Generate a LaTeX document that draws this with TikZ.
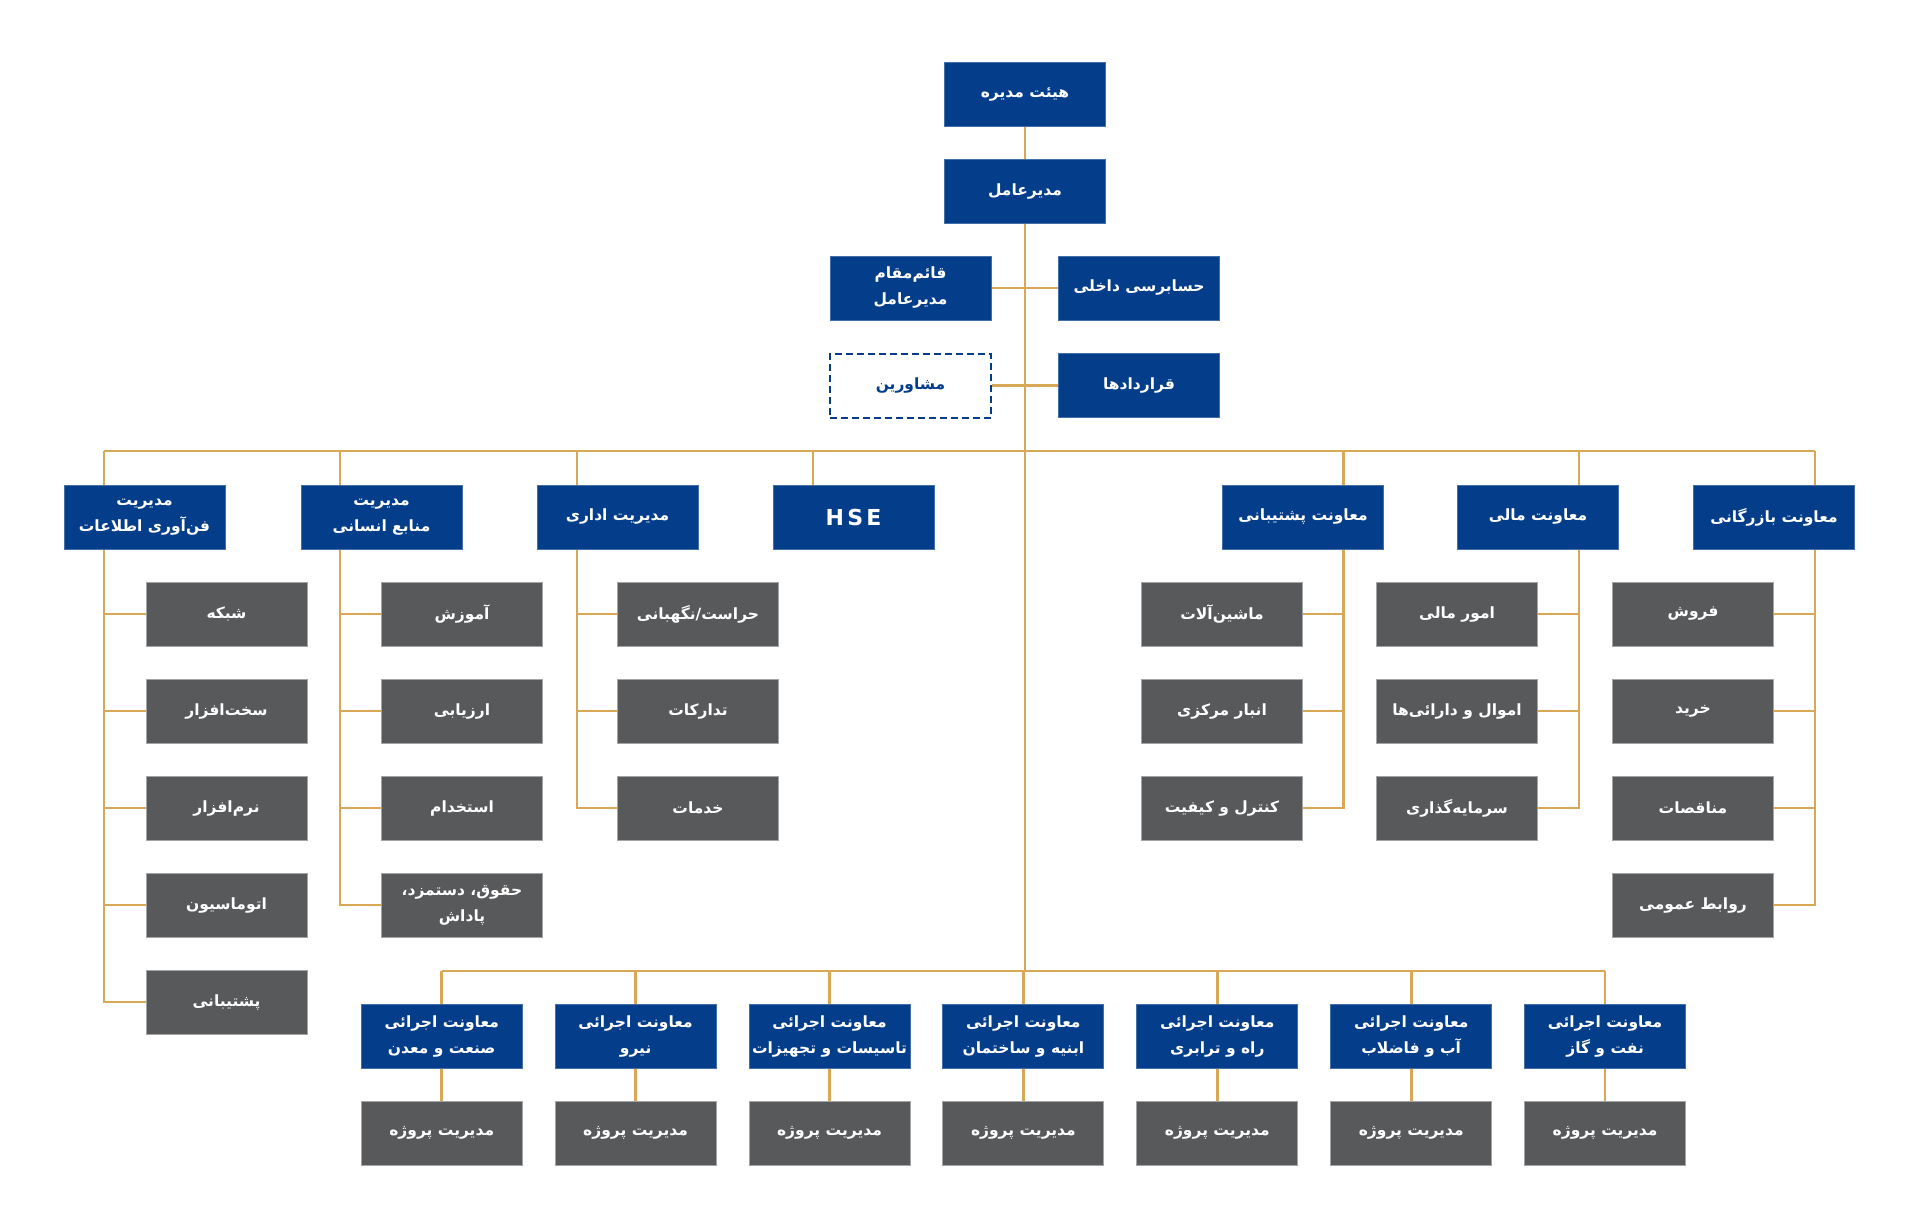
\documentclass[tikz,border=0pt]{standalone}
\usepackage{fontspec}
\usetikzlibrary{backgrounds}
\TeXXeTstate=1
\newfontfamily\arabicfont[Script=Arabic]{DejaVu Sans}
\newfontfamily\hsefont[LetterSpace=15]{DejaVu Sans}
\newcommand{\fa}[1]{{\arabicfont\bfseries\beginR #1\endR}}
\definecolor{cblue}{RGB}{4,62,138}
\definecolor{cgray}{RGB}{88,89,91}
\definecolor{cgold}{RGB}{216,168,86}
\tikzset{
  box/.style={minimum width=161pt, minimum height=64pt, inner sep=0pt, align=center,
    font=\fontsize{15.5}{26}\selectfont, text=white},
  bluebox/.style={box, fill=cblue, draw=cblue!75!white, line width=1pt},
  graybox/.style={box, fill=cgray, draw=cgray!55!white, line width=1pt},
  dashbox/.style={box, fill=white, draw=cblue, dash pattern=on 7pt off 4pt, line width=2pt, text=cblue},
  link/.style={draw=cgold, line width=2.6pt}
}
\begin{document}
\begin{tikzpicture}[x=1pt,y=-1pt]
\useasboundingbox (0,0) rectangle (1920,1228);
% top
\node[bluebox] (board) at (1025,94.5) {\fa{هیئت مدیره}};
\node[bluebox] (ceo) at (1025,191.5) {\fa{مدیرعامل}};
\node[bluebox] (deputy) at (910.5,288) {\fa{قائم‌مقام}\\\fa{مدیرعامل}};
\node[bluebox] (audit) at (1139,288) {\fa{حسابرسی داخلی}};
\node[dashbox] (advisors) at (910.5,385.5) {\fa{مشاورین}};
\node[bluebox] (contracts) at (1139,385.5) {\fa{قراردادها}};
% level 2
\node[bluebox] (it) at (144.5,517) {\fa{مدیریت}\\\fa{فن‌آوری اطلاعات}};
\node[bluebox] (hr) at (381.5,517) {\fa{مدیریت}\\\fa{منابع انسانی}};
\node[bluebox] (adm) at (617.5,517) {\fa{مدیریت اداری}};
\node[bluebox] (hse) at (853.5,517) {\hsefont\bfseries\fontsize{22}{24}\selectfont HSE};
\node[bluebox] (sup) at (1303,517) {\fa{معاونت پشتیبانی}};
\node[bluebox] (fin) at (1538,517) {\fa{معاونت مالی}};
\node[bluebox] (com) at (1774,517) {\fa{معاونت بازرگانی}};
% IT children
\node[graybox] (it1) at (226.5,614) {\fa{شبکه}};
\node[graybox] (it2) at (226.5,711) {\fa{سخت‌افزار}};
\node[graybox] (it3) at (226.5,808) {\fa{نرم‌افزار}};
\node[graybox] (it4) at (226.5,905) {\fa{اتوماسیون}};
\node[graybox] (it5) at (226.5,1002) {\fa{پشتیبانی}};
% HR children
\node[graybox] (hr1) at (462,614) {\fa{آموزش}};
\node[graybox] (hr2) at (462,711) {\fa{ارزیابی}};
\node[graybox] (hr3) at (462,808) {\fa{استخدام}};
\node[graybox] (hr4) at (462,905) {\fa{حقوق، دستمزد،}\\\fa{پاداش}};
% admin children
\node[graybox] (adm1) at (698,614) {\fa{حراست/نگهبانی}};
\node[graybox] (adm2) at (698,711) {\fa{تدارکات}};
\node[graybox] (adm3) at (698,808) {\fa{خدمات}};
% support children
\node[graybox] (sup1) at (1222,614) {\fa{ماشین‌آلات}};
\node[graybox] (sup2) at (1222,711) {\fa{انبار مرکزی}};
\node[graybox] (sup3) at (1222,808) {\fa{کنترل و کیفیت}};
% finance children
\node[graybox] (fin1) at (1457,614) {\fa{امور مالی}};
\node[graybox] (fin2) at (1457,711) {\fa{اموال و دارائی‌ها}};
\node[graybox] (fin3) at (1457,808) {\fa{سرمایه‌گذاری}};
% commerce children
\node[graybox] (com1) at (1693,614) {\fa{فروش}};
\node[graybox] (com2) at (1693,711) {\fa{خرید}};
\node[graybox] (com3) at (1693,808) {\fa{مناقصات}};
\node[graybox] (com4) at (1693,905) {\fa{روابط عمومی}};
% executive deputies
\foreach \i/\t in {1/{صنعت و معدن},2/{نیرو},3/{تاسیسات و تجهیزات},4/{ابنیه و ساختمان},5/{راه و ترابری},6/{آب و فاضلاب},7/{نفت و گاز}}{
  \node[bluebox] (ex\i) at ({441.7+(\i-1)*193.9},1036) {\fa{معاونت اجرائی}\\\fa{\t}};
  \node[graybox] (pm\i) at ({441.7+(\i-1)*193.9},1133) {\fa{مدیریت پروژه}};
}
% bus coordinates
\coordinate (itx) at (104,451);
\coordinate (hrx) at (340,451);
\coordinate (admx) at (577,451);
\coordinate (hsex) at (813,451);
\coordinate (supx) at (1343.5,451);
\coordinate (finx) at (1579,451);
\coordinate (comx) at (1815,451);
\coordinate (bb) at (1025,971);
\begin{scope}[on background layer]
\fill[white] (0,0) rectangle (1920,1228);
\draw[link] (board) -- (ceo);
\draw[link] (ceo.south) -- (bb);
\draw[link] (deputy.east) -- (audit.west);
\draw[link] (advisors.east) -- (contracts.west);
\draw[link] (itx) -- (comx);
\draw[link] (itx) -- (itx |- it5.west) -- (it5.west);
\foreach \j in {1,...,4} \draw[link] (itx |- it\j.west) -- (it\j.west);
\draw[link] (hrx) -- (hrx |- hr4.west) -- (hr4.west);
\foreach \j in {1,...,3} \draw[link] (hrx |- hr\j.west) -- (hr\j.west);
\draw[link] (admx) -- (admx |- adm3.west) -- (adm3.west);
\foreach \j in {1,2} \draw[link] (admx |- adm\j.west) -- (adm\j.west);
\draw[link] (hsex) -- (hsex |- hse.north);
\draw[link] (supx) -- (supx |- sup3.east) -- (sup3.east);
\foreach \j in {1,2} \draw[link] (supx |- sup\j.east) -- (sup\j.east);
\draw[link] (finx) -- (finx |- fin3.east) -- (fin3.east);
\foreach \j in {1,2} \draw[link] (finx |- fin\j.east) -- (fin\j.east);
\draw[link] (comx) -- (comx |- com4.east) -- (com4.east);
\foreach \j in {1,...,3} \draw[link] (comx |- com\j.east) -- (com\j.east);
\draw[link] (ex1.north |- bb) -- (ex7.north |- bb);
\foreach \i in {1,...,7}{
  \draw[link] (ex\i.north |- bb) -- (ex\i.north);
  \draw[link] (ex\i.south) -- (pm\i.north);
}
\end{scope}
\end{tikzpicture}
\end{document}
